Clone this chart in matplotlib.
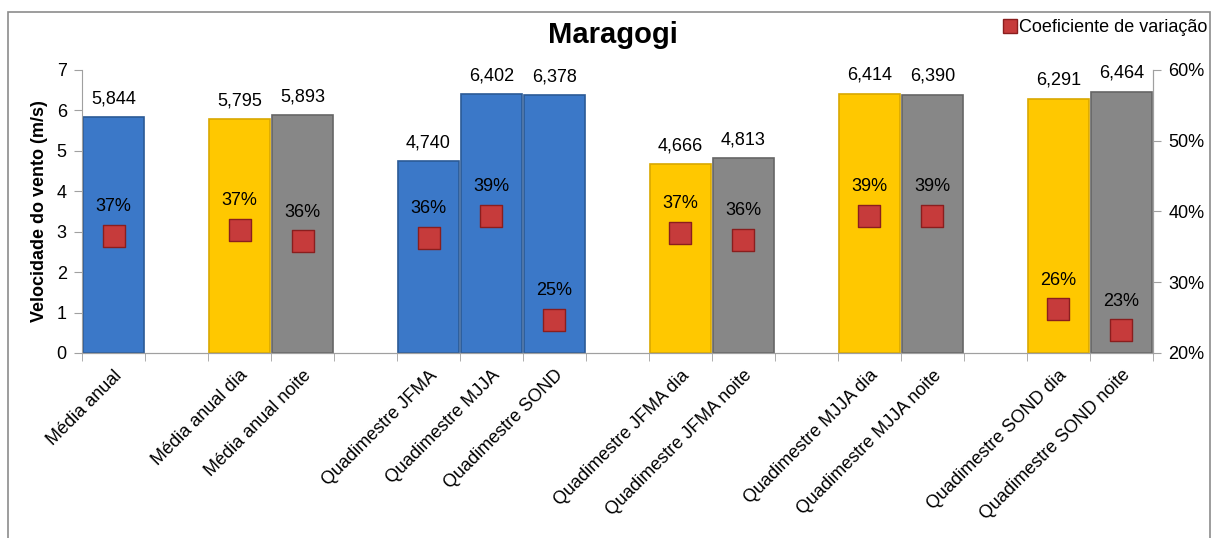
import matplotlib.pyplot as plt
import numpy as np
from matplotlib.patches import Rectangle
from matplotlib.lines import Line2D

plt.rcParams['font.family'] = ['Liberation Sans', 'DejaVu Sans']

# dados (categorias vazias = espaços entre grupos)
categorias = ["Média anual", "", "Média anual dia", "Média anual noite", "",
              "Quadimestre JFMA", "Quadimestre MJJA", "Quadimestre SOND", "",
              "Quadimestre JFMA dia", "Quadimestre JFMA noite", "",
              "Quadimestre MJJA dia", "Quadimestre MJJA noite", "",
              "Quadimestre SOND dia", "Quadimestre SOND noite"]
velocidade = [5.844, np.nan, 5.795, 5.893, np.nan, 4.740, 6.402, 6.378, np.nan,
              4.666, 4.813, np.nan, 6.414, 6.390, np.nan, 6.291, 6.464]
coef_var = [36.6, np.nan, 37.4, 35.8, np.nan, 36.3, 39.4, 24.7, np.nan,
            37.0, 36.0, np.nan, 39.4, 39.4, np.nan, 26.2, 23.2]
tipo = ["m", "", "d", "n", "", "m", "m", "m", "", "d", "n", "", "d", "n", "", "d", "n"]

cores = {"m": "#3b78c8", "d": "#ffc800", "n": "#878787"}
bordas = {"m": "#2b5a96", "d": "#d9a800", "n": "#666666"}

fig = plt.figure(figsize=(12.19, 5.38), dpi=100)
ax = fig.add_axes([0.0673, 0.3439, 0.8785, 0.526])
ax2 = ax.twinx()

x = np.arange(len(categorias))
for i in x:
    if np.isnan(velocidade[i]):
        continue
    ax.bar(i, velocidade[i], width=0.96, color=cores[tipo[i]],
           edgecolor=bordas[tipo[i]], linewidth=1.2, zorder=2)
    ax.text(i, velocidade[i] + 0.45, f"{velocidade[i]:.3f}".replace(".", ","),
            ha='center', va='center', fontsize=13)

cv = np.array(coef_var)
ok = ~np.isnan(cv)
ax2.scatter(x[ok], cv[ok], marker='s', s=250, color='#c63b3b',
            edgecolor='#8a1e1e', linewidth=1, zorder=5)
for i in x[ok]:
    ax2.text(i, cv[i] + 4.1, f"{cv[i]:.0f}%", ha='center', va='center', fontsize=13)

ax.set_xlim(-0.5, len(categorias) - 0.5)
ax.set_ylim(0, 7)
ax2.set_ylim(20, 60)
ax.set_yticks(range(0, 8))
ax2.set_yticks(range(20, 61, 10))
ax2.set_yticklabels([f"{v}%" for v in range(20, 61, 10)])

ax.set_xticks(x)
ax.set_xticklabels(categorias, rotation=45, ha='right', rotation_mode='anchor', fontsize=13)
ax.set_xticks(np.arange(-0.5, len(categorias)), minor=True)
ax.tick_params(axis='x', which='major', length=0, pad=10)
ax.tick_params(axis='x', which='minor', length=6, color='#a0a0a0')
ax.tick_params(axis='y', labelsize=13, length=6, color='#a0a0a0', pad=5)
ax2.tick_params(axis='y', labelsize=13, length=6, color='#a0a0a0', pad=5)

for a in (ax, ax2):
    a.spines['top'].set_visible(False)
    for s in ('left', 'right', 'bottom'):
        a.spines[s].set_color('#a0a0a0')
ax2.spines['left'].set_visible(False)

ax.set_ylabel("Velocidade do vento (m/s)", fontsize=13, fontweight='bold', labelpad=6)
fig.text(0.503, 0.935, "Maragogi", ha='center', va='center', fontsize=21, fontweight='bold')

h = Line2D([], [], marker='s', linestyle='none', markersize=10,
           markerfacecolor='#c63b3b', markeredgecolor='#8a1e1e')
fig.legend([h], ["Coeficiente de variação"], loc='upper right',
           bbox_to_anchor=(0.999, 0.985), frameon=False, fontsize=13,
           handletextpad=0.0, handlelength=1.0, borderaxespad=0.2)

# moldura do gráfico
fig.patches.append(Rectangle((8 / 1219, -0.05), 1202 / 1219, 1.05 - 12 / 538,
                             transform=fig.transFigure, fill=False,
                             edgecolor='#8c8c8c', linewidth=1.2))

fig.savefig("out.png", dpi=100)
